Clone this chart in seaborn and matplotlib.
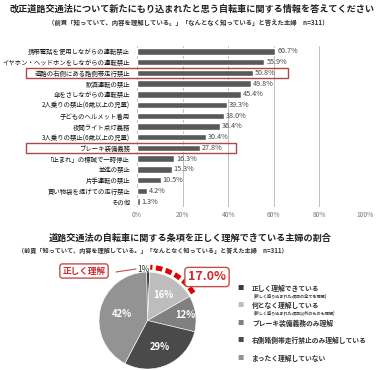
import numpy as np
import pandas as pd
import matplotlib
matplotlib.use("Agg")
import matplotlib.pyplot as plt
import seaborn as sns
from matplotlib.patches import Rectangle, Arc
from matplotlib.lines import Line2D

# ---- data -------------------------------------------------------------------
bar_items = [
    "携帯電話を使用しながらの運転禁止",
    "イヤホン・ヘッドホンをしながらの運転禁止",
    "道路の右側にある路側帯走行禁止",
    "飲酒運転の禁止",
    "傘をさしながらの運転禁止",
    "2人乗りの禁止(6歳以上の児童)",
    "子どものヘルメット着用",
    "夜間ライト点灯義務",
    "3人乗りの禁止(6歳以上の児童)",
    "ブレーキ装備義務",
    "「止まれ」の標識で一時停止",
    "並進の禁止",
    "片手運転の禁止",
    "買い物袋を提げての走行禁止",
    "その他",
]
bar_values = [60.7, 55.9, 50.8, 49.8, 45.4, 39.3, 38.0, 36.4, 30.4, 27.8, 16.3, 15.3, 10.5, 4.2, 1.3]
highlighted = ["道路の右側にある路側帯走行禁止", "ブレーキ装備義務"]

pie_labels = [
    "正しく理解できている",
    "何となく理解している",
    "ブレーキ装備義務のみ理解",
    "右側路側帯走行禁止のみ理解している",
    "まったく理解していない",
]
pie_notes = [
    "(新しく盛り込まれた項目の全てを理解)",
    "(新しく盛り込まれた項目以外のものも理解)",
    "", "", "",
]
pie_values = [1, 16, 12, 29, 42]
pie_colors = ["#3c3c3c", "#bdbdbd", "#808080", "#4a4a4a", "#939393"]
correct_total = "17.0%"

title1 = "改正道路交通法について新たにもり込まれたと思う自転車に関する情報を答えてください"
subtitle = "（前頁「知っていて、内容を理解している。」「なんとなく知っている」と答えた主婦　n=311）"
title2 = "道路交通法の自転車に関する条項を正しく理解できている主婦の割合"

# ---- style ------------------------------------------------------------------
sns.set_theme(style="whitegrid")
plt.rcParams["font.family"] = ["Noto Sans CJK JP", "DejaVu Sans"]
RED = "#d42a2a"
BOXRED = "#b0454a"

W, H = 384, 370
fig = plt.figure(figsize=(W / 100, H / 100), dpi=100)
fig.patch.set_facecolor("white")

fig.text(0.5, 1 - 9 / H, title1, ha="center", va="center", fontsize=6.6, fontweight="bold", color="#222222")
fig.text(188 / W, 1 - 23 / H, subtitle, ha="center", va="center", fontsize=4.6, fontweight="bold", color="#333333")

# ---- bar chart --------------------------------------------------------------
ax = fig.add_axes([137 / W, 1 - 207 / H, 228 / W, 161 / H])
df = pd.DataFrame({"item": bar_items, "value": bar_values})
sns.barplot(data=df, x="value", y="item", orient="h", color="#595959",
            width=0.6, saturation=1, ax=ax)
ax.set_xlim(0, 100)
ax.set_ylim(len(bar_items) - 0.5, -0.5)
ax.set_xticks(range(0, 101, 20))
ax.set_xticklabels([f"{t}%" for t in range(0, 101, 20)], fontsize=4.8, color="#777777")
ax.tick_params(axis="y", labelsize=4.6, pad=5, colors="#111111", length=0)
ax.tick_params(axis="x", pad=3, length=0)
ax.set_xlabel("")
ax.set_ylabel("")
ax.grid(axis="x", color="#bfbfbf", lw=0.7)
ax.grid(axis="y", visible=False)
for s in ax.spines.values():
    s.set_visible(False)
for i, v in enumerate(bar_values):
    ax.text(v + 0.8, i, f"{v:.1f}%", va="center", ha="left", fontsize=5.2, color="#444444")
for name in highlighted:
    i = bar_items.index(name)
    v = bar_values[i]
    ax.add_patch(Rectangle((-48.7, i - 0.47), 48.7 + v + 15.5, 0.94, fill=False,
                           edgecolor=BOXRED, lw=1.0, clip_on=False, zorder=5))

# ---- pie chart --------------------------------------------------------------
fig.text(190 / W, 1 - 238 / H, title2, ha="center", va="center", fontsize=6.6, fontweight="bold", color="#222222")
fig.text(153 / W, 1 - 251 / H, subtitle, ha="center", va="center", fontsize=4.4, fontweight="bold", color="#333333")

R = 48.5
pax = fig.add_axes([(147.5 - 60) / W, 1 - (320.5 + 60) / H, 120 / W, 120 / H])
wedges, _ = pax.pie(pie_values, colors=pie_colors, startangle=91, counterclock=False,
                    wedgeprops=dict(edgecolor="white", linewidth=0.4))
lim = 60 / R
pax.set_xlim(-lim, lim)
pax.set_ylim(-lim, lim)
pax.set_aspect("equal")
pax.axis("off")

label_r = [None, 0.62, 0.78, 0.6, 0.55]
for w, v, r in zip(wedges, pie_values, label_r):
    if r is None:
        continue
    ang = np.deg2rad((w.theta1 + w.theta2) / 2)
    pax.text(r * np.cos(ang), r * np.sin(ang), f"{v}%", ha="center", va="center",
             fontsize=6.8, color="white", fontweight="bold")

# small top slice label
fig.text(143 / W, 1 - 270 / H, f"{pie_values[0]}%", ha="center", va="center", fontsize=6, color="#333333")

# dashed arc around the correctly-understood part
arc = Arc((0, 0), 2.2, 2.2, theta1=31, theta2=87, color="#e00000", lw=3.6,
          linestyle=(0, (1.3, 0.7)), clip_on=False)
pax.add_patch(arc)

fig.text(207 / W, 1 - 277 / H, correct_total, ha="center", va="center", fontsize=9,
         fontweight="bold", color=RED,
         bbox=dict(boxstyle="round,pad=0.25", fc="white", ec="#c0504d", lw=1.0))
fig.text(84 / W, 1 - 271 / H, "正しく理解", ha="center", va="center", fontsize=6.2,
         fontweight="bold", color=RED,
         bbox=dict(boxstyle="round,pad=0.3", fc="white", ec="#c0504d", lw=1.0))
fig.add_artist(Line2D([116 / W, 136 / W], [1 - 272 / H, 1 - 269 / H], color="#c0504d", lw=0.8))

# legend
leg_y = [288, 305, 323, 340, 358]
for lab, note, col, y in zip(pie_labels, pie_notes, pie_colors, leg_y):
    fig.text(241 / W, 1 - y / H, "■", ha="center", va="center", fontsize=4.5, color=col)
    fig.text(252 / W, 1 - y / H, lab, ha="left", va="center", fontsize=4.9,
             fontweight="bold", color="#333333")
    if note:
        fig.text(254 / W, 1 - (y + 8) / H, note, ha="left", va="center", fontsize=3.0,
                 fontweight="bold", color="#444444")

fig.savefig("out.png", dpi=100, facecolor="white")
